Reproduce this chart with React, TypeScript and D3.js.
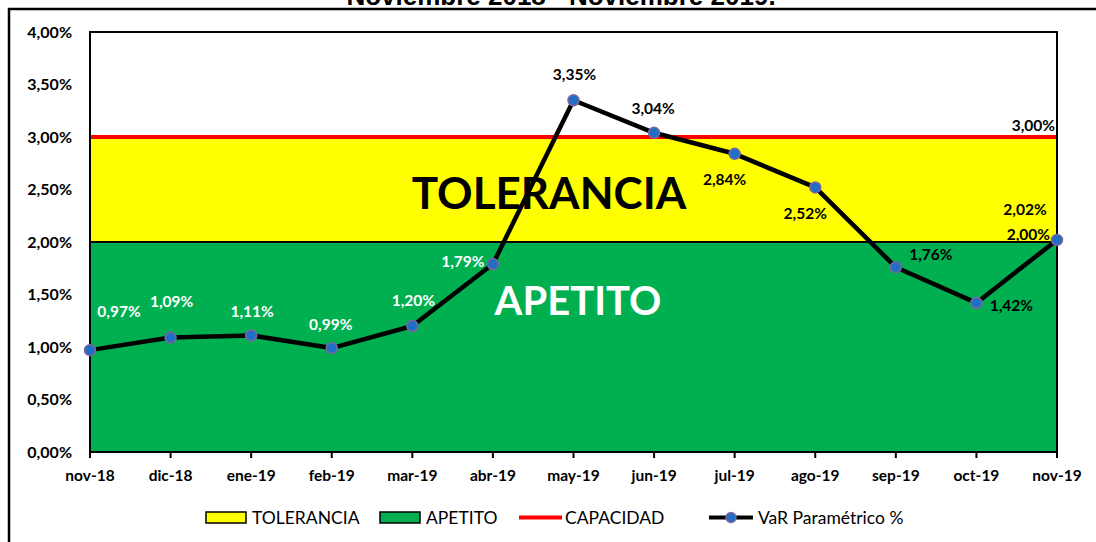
import React from "react";
import * as d3 from "d3";

const categories = ["nov-18","dic-18","ene-19","feb-19","mar-19","abr-19","may-19","jun-19","jul-19","ago-19","sep-19","oct-19","nov-19"];
const varValues = [0.97,1.09,1.11,0.99,1.20,1.79,3.35,3.04,2.84,2.52,1.76,1.42,2.02];
const apetito = 2.0;
const capacidad = 3.0;
const yTicks = [0,0.5,1,1.5,2,2.5,3,3.5,4];
// label offsets relative to point (dx, dy)
const labelOffsets: [number, number][] = [[29,-39],[1,-36],[1,-24],[-1,-24],[1,-26],[-30,-3],[1,-26],[-1,-24],[-10,26],[-10,26],[35,-13],[35,3],[-32,-30]];

const W = 1096, H = 542;
const M = { left: 90, right: 1057, top: 32, bottom: 452 };
const FONT = "Lato, 'Open Sans', sans-serif";

export default function App() {
  const x = d3.scalePoint<string>().domain(categories).range([M.left, M.right]);
  const y = d3.scaleLinear().domain([0, 4]).range([M.bottom, M.top]);
  const line = d3.line<number>().x((_, i) => x(categories[i])!).y(d => y(d));
  const fmt = (v: number) => v.toFixed(2).replace(".", ",") + "%";
  const pw = M.right - M.left;

  return (
    <svg width={W} height={H} style={{ position: "absolute", left: 0, top: 0, background: "#fff" }}>
      <text x={561} y={5} textAnchor="middle" fontFamily="'Liberation Sans', Arial, sans-serif" fontWeight="bold" fontSize={26} fill="#000">Noviembre 2018 - Noviembre 2019.</text>
      <path d={`M9,${H} L9,9 L${W},9`} fill="none" stroke="#000" strokeWidth={2.5} />

      {/* bands */}
      <rect x={M.left} y={y(apetito)} width={pw} height={y(0) - y(apetito)} fill="#00b050" />
      <rect x={M.left} y={y(capacidad)} width={pw} height={y(apetito) - y(capacidad)} fill="#ffff00" />
      <line x1={M.left} x2={M.right} y1={y(apetito)} y2={y(apetito)} stroke="#000" strokeWidth={2} />
      <line x1={M.left} x2={M.right} y1={y(capacidad)} y2={y(capacidad)} stroke="#ff0000" strokeWidth={4} />
      <rect x={M.left} y={M.top} width={pw} height={M.bottom - M.top} fill="none" stroke="#000" strokeWidth={2} />

      <text x={549} y={209} textAnchor="middle" fontFamily={FONT} fontWeight="bold" fontSize={44} fill="#000">TOLERANCIA</text>
      <text x={578} y={315} textAnchor="middle" fontFamily={FONT} fontWeight="bold" fontSize={40} fill="#fff">APETITO</text>

      {/* y ticks */}
      {yTicks.map(t => (
        <text key={t} x={72} y={y(t) + 5.5} textAnchor="end" fontFamily={FONT} fontWeight="bold" fontSize={16} fill="#000">{fmt(t)}</text>
      ))}
      {/* x ticks */}
      {categories.map(c => (
        <g key={c}>
          <line x1={x(c)} x2={x(c)} y1={M.bottom} y2={M.bottom + 6} stroke="#000" strokeWidth={2} />
          <text x={x(c)} y={481} textAnchor="middle" fontFamily={FONT} fontWeight="bold" fontSize={15.5} fill="#000">{c}</text>
        </g>
      ))}

      {/* threshold labels */}
      <text x={1055} y={y(capacidad) - 6} textAnchor="end" fontFamily={FONT} fontWeight="bold" fontSize={15.5} fill="#000">{fmt(capacidad)}</text>
      <text x={1050} y={y(apetito) - 2} textAnchor="end" fontFamily={FONT} fontWeight="bold" fontSize={15.5} fill="#000">{fmt(apetito)}</text>

      {/* VaR line */}
      <path d={line(varValues)!} fill="none" stroke="#000" strokeWidth={4.5} strokeLinejoin="round" />
      {varValues.map((v, i) => (
        <circle key={i} cx={x(categories[i])} cy={y(v)} r={5.5} fill="#1f6fc5" stroke="#8064a2" strokeWidth={1.5} />
      ))}
      {varValues.map((v, i) => {
        const [dx, dy] = labelOffsets[i];
        const white = v < apetito && i < 6;
        return (
          <text key={i} x={x(categories[i])! + dx} y={y(v) + dy + 5.5} textAnchor="middle" fontFamily={FONT} fontWeight="bold" fontSize={15.5} fill={white ? "#fff" : "#000"}>{fmt(v)}</text>
        );
      })}

      {/* legend */}
      <g fontFamily={FONT} fontSize={17.5} fill="#000">
        <rect x={206} y={512} width={40} height={11} fill="#ffff00" stroke="#000" strokeWidth={1.5} />
        <text x={252} y={524}>TOLERANCIA</text>
        <rect x={380} y={512} width={40} height={11} fill="#00b050" stroke="#000" strokeWidth={1.5} />
        <text x={426} y={524}>APETITO</text>
        <line x1={519} x2={562} y1={517.5} y2={517.5} stroke="#ff0000" strokeWidth={4} />
        <text x={565} y={524}>CAPACIDAD</text>
        <line x1={709} x2={753} y1={517.5} y2={517.5} stroke="#000" strokeWidth={4} />
        <circle cx={731} cy={517.5} r={5} fill="#1f6fc5" stroke="#8064a2" strokeWidth={1.5} />
        <text x={758} y={524}>VaR Paramétrico %</text>
      </g>
    </svg>
  );
}
